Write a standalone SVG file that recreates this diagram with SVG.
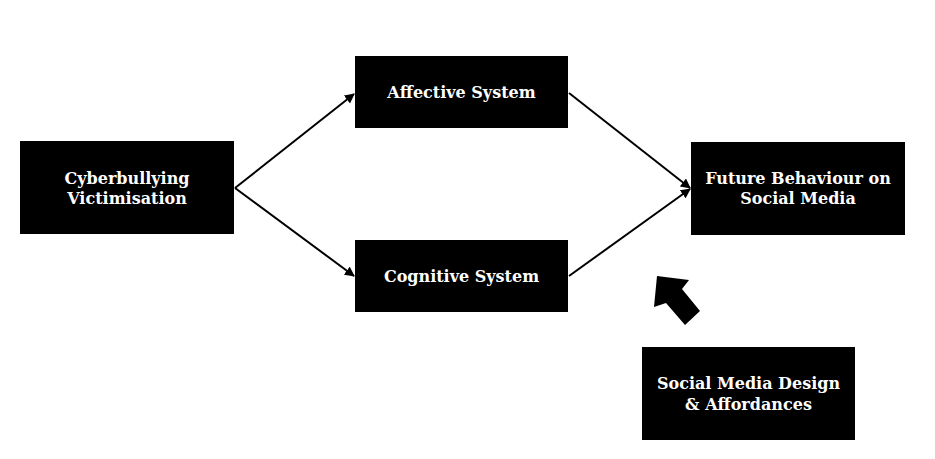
<svg xmlns="http://www.w3.org/2000/svg" width="935" height="459" viewBox="0 0 935 459">
<style>
.box{fill:#000}
.t{fill:#fff;font-family:"DejaVu Serif","Liberation Serif",serif;font-weight:bold;font-size:16px;text-anchor:middle}
.c{stroke:#000;stroke-width:2;fill:none;marker-end:url(#ah)}
</style>
<defs>
<marker id="ah" viewBox="0 0 10 10" refX="9" refY="5" markerWidth="5" markerHeight="5" orient="auto" markerUnits="strokeWidth">
<path d="M0,0 L10,5 L0,10 z" fill="#000"/>
</marker>
</defs>
<rect width="935" height="459" fill="#fff"/>
<g id="connectors">
<line class="c" x1="235" y1="188" x2="354" y2="94"/>
<line class="c" x1="235" y1="188" x2="354" y2="276"/>
<line class="c" x1="569" y1="93" x2="690" y2="188"/>
<line class="c" x1="569" y1="276" x2="690" y2="189"/>
<polygon points="657,276 689,280 682,289 700,311 685,325 666,303 654,307" fill="#000"/>
</g>
<g id="cyberbullying">
<rect class="box" x="20" y="141" width="214" height="93"/>
<text class="t" x="127" y="184">Cyberbullying</text>
<text class="t" x="127" y="204">Victimisation</text>
</g>
<g id="affective">
<rect class="box" x="355" y="56" width="213" height="72"/>
<text class="t" x="461.5" y="98">Affective System</text>
</g>
<g id="cognitive">
<rect class="box" x="355" y="240" width="213" height="72"/>
<text class="t" x="461.5" y="282">Cognitive System</text>
</g>
<g id="future">
<rect class="box" x="691" y="142" width="214" height="93"/>
<text class="t" x="798" y="184">Future Behaviour on</text>
<text class="t" x="798" y="204">Social Media</text>
</g>
<g id="design">
<rect class="box" x="642" y="347" width="213" height="93"/>
<text class="t" x="748.5" y="389">Social Media Design</text>
<text class="t" x="748.5" y="410">&amp; Affordances</text>
</g>
</svg>
